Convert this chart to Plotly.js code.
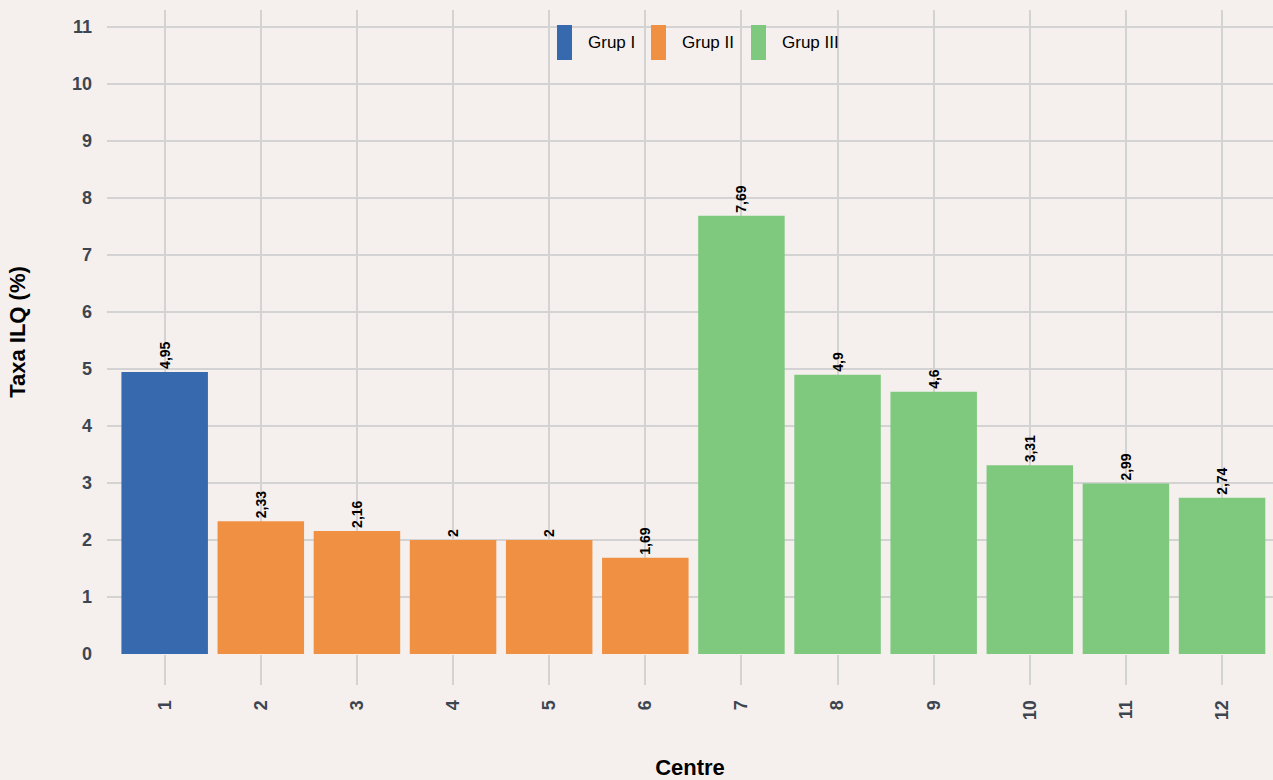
<!DOCTYPE html>
<html>
<head>
<meta charset="utf-8">
<script src="https://cdn.plot.ly/plotly-3.0.1.min.js"></script>
<style>html,body{margin:0;padding:0;background:#f5f0ee;}#chart{width:1273px;height:780px;}</style>
</head>
<body>
<div id="chart"></div>
<script>
const centres = ['1','2','3','4','5','6','7','8','9','10','11','12'];
const rates = [4.95, 2.33, 2.16, 2, 2, 1.69, 7.69, 4.9, 4.6, 3.31, 2.99, 2.74];
const groups = ['Grup I','Grup II','Grup II','Grup II','Grup II','Grup II','Grup III','Grup III','Grup III','Grup III','Grup III','Grup III'];
const groupNames = ['Grup I','Grup II','Grup III'];
const groupColors = ['#3769ae','#f09043','#7fc97f'];
const yTicks = [0,1,2,3,4,5,6,7,8,9,10,11];

const fmt = v => String(v).replace('.', ',');
const font = 'Liberation Sans, Arial, sans-serif';

const traces = groupNames.map((g, gi) => {
  const idx = centres.map((c, i) => i).filter(i => groups[i] === g);
  return {
    type: 'bar',
    name: g,
    x: idx.map(i => centres[i]),
    y: idx.map(i => rates[i]),
    text: idx.map(i => fmt(rates[i])),
    textposition: 'outside',
    textangle: -90,
    textfont: {family: font, size: 14, color: '#000', weight: 'bold'},
    cliponaxis: false,
    marker: {color: groupColors[gi], line: {width: 0}},
    showlegend: false,
    hoverinfo: 'x+y'
  };
});

// custom legend (tall keys)
const legX = [557, 651, 751];
const shapes = [];
const annotations = [];
groupNames.forEach((g, gi) => {
  shapes.push({type: 'rect', xref: 'paper', yref: 'paper',
    x0: (legX[gi] - 107) / 1166, x1: (legX[gi] + 15 - 107) / 1166,
    y0: (654 - 60) / 644, y1: (654 - 25) / 644,
    fillcolor: groupColors[gi], line: {width: 0}, layer: 'above'});
  annotations.push({xref: 'paper', yref: 'paper', x: (legX[gi] + 29 - 107) / 1166,
    y: (654 - 43) / 644, xanchor: 'left', yanchor: 'middle', showarrow: false,
    text: g, font: {family: font, size: 17, color: '#000'}});
});

const layout = {
  width: 1273, height: 780,
  paper_bgcolor: '#f5f0ee', plot_bgcolor: '#f5f0ee',
  margin: {l: 107, r: 0, t: 10, b: 126},
  barmode: 'relative',
  bargap: 0.1,
  showlegend: false,
  font: {family: font},
  xaxis: {
    type: 'category', categoryorder: 'array', categoryarray: centres,
    range: [-0.6, 11.53],
    showgrid: true, gridcolor: '#d3d3d3', gridwidth: 2,
    ticks: 'outside', ticklen: 30, tickwidth: 2, tickcolor: '#d3d3d3',
    tickangle: -90, ticklabelstandoff: 8,
    tickfont: {family: font, size: 18, color: '#3d4650', weight: 'bold'},
    showline: false, zeroline: false,
    title: {text: 'Centre', font: {family: font, size: 22, color: '#000', weight: 'bold'}, standoff: 42}
  },
  yaxis: {
    range: [0, 11.3],
    tickvals: yTicks, ticktext: yTicks.map(String),
    showgrid: true, gridcolor: '#d3d3d3', gridwidth: 2,
    zeroline: false, showline: false,
    ticks: '', ticklabelstandoff: 14,
    tickfont: {family: font, size: 18, color: '#3d4650', weight: 'bold'},
    title: {text: 'Taxa ILQ (%)', font: {family: font, size: 22, color: '#000', weight: 'bold'}, standoff: 40}
  },
  shapes: shapes,
  annotations: annotations
};

Plotly.newPlot('chart', traces, layout, {displayModeBar: false, staticPlot: true});
</script>
</body>
</html>
